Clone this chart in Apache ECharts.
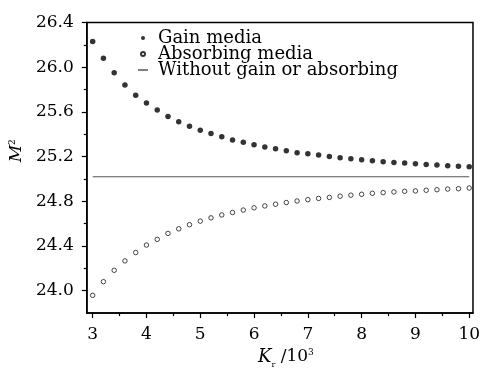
<!DOCTYPE html>
<html><head><meta charset="utf-8">
<script src="https://cdn.jsdelivr.net/npm/echarts@6/dist/echarts.min.js"></script>
<style>html,body{margin:0;padding:0;background:#fff}#c{width:483px;height:374px}</style>
</head><body><div id="c"></div>
<script>
const kValues = [3.0,3.2,3.4,3.6,3.8,4.0,4.2,4.4,4.6,4.8,5.0,5.2,5.4,5.6,5.8,6.0,6.2,6.4,6.6,6.8,7.0,7.2,7.4,7.6,7.8,8.0,8.2,8.4,8.6,8.8,9.0,9.2,9.4,9.6,9.8,10.0];
const gainMedia = [26.23,26.08,25.95,25.84,25.75,25.68,25.617,25.56,25.513,25.472,25.437,25.406,25.377,25.348,25.328,25.307,25.287,25.27,25.252,25.235,25.226,25.215,25.2,25.189,25.18,25.171,25.162,25.154,25.148,25.142,25.136,25.13,25.124,25.119,25.113,25.11];
const absorbingMedia = [23.959,24.081,24.183,24.267,24.342,24.409,24.46,24.513,24.554,24.591,24.623,24.652,24.678,24.70,24.722,24.742,24.759,24.774,24.789,24.803,24.815,24.826,24.835,24.846,24.855,24.863,24.872,24.878,24.884,24.89,24.893,24.899,24.904,24.91,24.913,24.919];
const withoutX = [3, 10];
const withoutY = [25.02, 25.02];
const xMajorTicks = [3,4,5,6,7,8,9,10];
const xMinorTicks = [3.5,4.5,5.5,6.5,7.5,8.5,9.5];
const yMajorTicks = [24.0,24.4,24.8,25.2,25.6,26.0,26.4];
const yMinorTicks = [24.2,24.6,25.0,25.4,25.8,26.2];
const seriesNames = ['Gain media','Absorbing media','Without gain or absorbing'];

const FONT = 'DejaVu Serif';
const chart = echarts.init(document.getElementById('c'), null, {renderer:'canvas'});
const xRange = {min: 2.89, max: 10.07};
const yRange = {min: 23.8, max: 26.4};

const option = {
  animation: false,
  backgroundColor: '#fff',
  grid: {left: 83, right: 8, top: 22.5, bottom: 53, show: true, borderColor: '#000', borderWidth: 1.5, backgroundColor: 'transparent'},
  legend: {
    orient: 'vertical', left: 133, top: 24, itemWidth: 10, itemHeight: 4, itemGap: -2,
    textStyle: {fontFamily: FONT, fontSize: 18, color: '#000', lineHeight: 16, padding: [0,0,0,5]},
    data: [
      {name: seriesNames[0], icon: 'circle'},
      {name: seriesNames[1], icon: 'circle'},
      {name: seriesNames[2], icon: 'path://M0,0H10V1H0Z', itemStyle: {color: '#000'}}
    ]
  },
  xAxis: [
    {
      type: 'value', position: 'bottom', min: xRange.min, max: xRange.max,
      axisLine: {show: true, onZero: false, lineStyle: {color: '#000', width: 1.5}},
      axisTick: {show: true, inside: false, length: 5, customValues: xMajorTicks, lineStyle: {color: '#000', width: 1.2}},
      axisLabel: {show: true, customValues: xMajorTicks, margin: 13, fontFamily: FONT, fontSize: 17, color: '#000'},
      splitLine: {show: false},
      name: '{i|K}{sub|r}{n| /10}{sup|3}', nameLocation: 'middle', nameGap: 29,
      nameTextStyle: {
        padding: [0,0,0,12],
        rich: {
          i: {fontFamily: FONT, fontStyle: 'italic', fontSize: 18, color: '#000'},
          sub: {fontFamily: FONT, fontSize: 8, color: '#000', verticalAlign: 'bottom', padding: [0,0,-3,0]},
          n: {fontFamily: FONT, fontSize: 17, color: '#000'},
          sup: {fontFamily: FONT, fontSize: 9, color: '#000', verticalAlign: 'top'}
        }
      }
    },
    {
      type: 'value', position: 'bottom', min: xRange.min, max: xRange.max,
      axisLine: {show: false, onZero: false},
      axisTick: {show: true, inside: false, length: 3, customValues: xMinorTicks, lineStyle: {color: '#000', width: 1.2}},
      axisLabel: {show: false},
      splitLine: {show: false}
    }
  ],
  yAxis: [
    {
      type: 'value', position: 'left', min: yRange.min, max: yRange.max,
      axisLine: {show: true, onZero: false, lineStyle: {color: '#000', width: 1.5}},
      axisTick: {show: true, inside: false, length: 5, customValues: yMajorTicks, lineStyle: {color: '#000', width: 1.2}},
      axisLabel: {show: true, customValues: yMajorTicks, margin: 13, fontFamily: FONT, fontSize: 17, color: '#000', formatter: v => v.toFixed(1)},
      splitLine: {show: false},
      name: '{i|M}{sup|2}', nameLocation: 'middle', nameGap: 50, nameRotate: 90,
      nameTextStyle: {
        padding: [0,0,0,34],
        rich: {
          i: {fontFamily: FONT, fontStyle: 'italic', fontSize: 17, color: '#000'},
          sup: {fontFamily: FONT, fontSize: 9, color: '#000', verticalAlign: 'top'}
        }
      }
    },
    {
      type: 'value', position: 'left', min: yRange.min, max: yRange.max,
      axisLine: {show: false, onZero: false},
      axisTick: {show: true, inside: false, length: 3, customValues: yMinorTicks, lineStyle: {color: '#000', width: 1.2}},
      axisLabel: {show: false},
      splitLine: {show: false}
    }
  ],
  series: [
    {
      name: seriesNames[0], type: 'scatter', xAxisIndex: 0, yAxisIndex: 0,
      symbol: 'circle', symbolSize: 5.5,
      itemStyle: {color: '#000'},
      data: kValues.map((k, i) => [k, gainMedia[i]])
    },
    {
      name: seriesNames[1], type: 'scatter', xAxisIndex: 0, yAxisIndex: 0,
      symbol: 'circle', symbolSize: 4.5,
      itemStyle: {color: '#fff', borderColor: '#000', borderWidth: 0.9},
      data: kValues.map((k, i) => [k, absorbingMedia[i]])
    },
    {
      name: seriesNames[2], type: 'line', xAxisIndex: 0, yAxisIndex: 0,
      symbol: 'none', lineStyle: {color: '#555', width: 1.2}, itemStyle: {color: '#555'},
      data: withoutX.map((x, i) => [x, withoutY[i]])
    }
  ]
};
chart.setOption(option);
</script></body></html>
